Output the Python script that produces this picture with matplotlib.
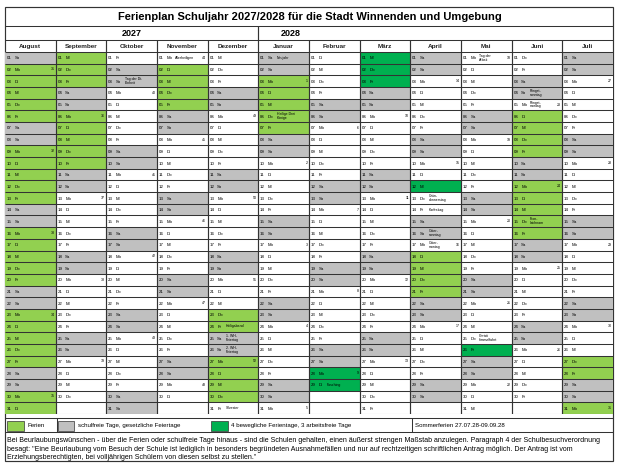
import datetime as dt
import matplotlib.pyplot as plt
from matplotlib.patches import Rectangle

plt.rcParams['font.family'] = ['Liberation Sans', 'DejaVu Sans']

title = 'Ferienplan Schuljahr 2027/2028 für die Stadt Winnenden und Umgebung'
years = ['2027', '2028']
months = ['August', 'September', 'Oktober', 'November', 'Dezember', 'Januar',
          'Februar', 'März', 'April', 'Mai', 'Juni', 'Juli']
month_numbers = [8, 9, 10, 11, 12, 1, 2, 3, 4, 5, 6, 7]
month_years = [2027, 2027, 2027, 2027, 2027, 2028, 2028, 2028, 2028, 2028, 2028, 2028]
weekdays = ['Mo', 'Di', 'Mi', 'Do', 'Fr', 'Sa', 'So']

# Ferien (hellgrün), Wochenenden werden grau
ferien_von = ['2027-08-01', '2027-11-02', '2027-12-23', '2028-01-03',
              '2028-04-18', '2028-06-06', '2028-07-27']
ferien_bis = ['2027-09-10', '2027-11-05', '2027-12-30', '2028-01-07',
              '2028-04-21', '2028-06-16', '2028-07-31']
# bewegliche Ferientage / arbeitsfreie Tage (dunkelgrün)
bewegliche_tage = ['2028-02-28', '2028-02-29', '2028-03-01', '2028-03-02',
                   '2028-03-03', '2028-04-12', '2028-05-26']

feiertag_datum = ['2027-10-03', '2027-11-01', '2027-12-24', '2027-12-25',
                  '2027-12-26', '2027-12-31', '2028-01-01', '2028-01-06',
                  '2028-02-29', '2028-04-13', '2028-04-14', '2028-04-16',
                  '2028-04-17', '2028-05-01', '2028-05-25', '2028-06-04',
                  '2028-06-05', '2028-06-15']
feiertag_name = ['Tag der Dt.\nEinheit', 'Allerheiligen', 'Heiligabend',
                 '1. WH-\nFeiertag', '2. WH-\nFeiertag', 'Silvester', 'Neujahr',
                 'Heilige Drei\nKönige', 'Fasching', 'Grün-\ndonnerstag',
                 'Karfreitag', 'Oster-\nsonntag', 'Oster-\nmontag',
                 'Tag der\nArbeit', 'Christi\nhimmelfahrt', 'Pfingst-\nsonntag',
                 'Pfingst-\nmontag', 'Fron-\nleichnam']

legend_labels = ['Ferien', 'schulfreie Tage, gesetzliche Feiertage',
                 '4 bewegliche Ferientage, 3 arbeitsfreie Tage']
sommerferien_text = 'Sommerferien 27.07.28-09.09.28'
hinweis = [
    'Bei Beurlaubungswünschen - über die Ferien oder schulfreie Tage hinaus - sind die Schulen '
    'gehalten, einen äußerst strengen Maßstab anzulegen. Paragraph 4 der Schulbesuchverordnung',
    'besagt: "Eine Beurlaubung vom Besuch der Schule ist lediglich in besonders begründeten '
    'Ausnahmefällen und nur auf rechtzeitigen schriftlichen Antrag möglich. Der Antrag ist vom',
    'Erziehungsberechtigten, bei volljährigen Schülern von diesen selbst zu stellen."',
]

FERIEN = '#92D050'
FREI = '#C0C0C0'
BEWEGLICH = '#00B050'
LINE = '#333333'

ferien = [(dt.date.fromisoformat(a), dt.date.fromisoformat(b))
          for a, b in zip(ferien_von, ferien_bis)]
beweglich = {dt.date.fromisoformat(s) for s in bewegliche_tage}
feiertage = {dt.date.fromisoformat(s): n for s, n in zip(feiertag_datum, feiertag_name)}


def farbe(tag):
    if tag.weekday() >= 5:
        return FREI
    if tag in beweglich:
        return BEWEGLICH
    if any(a <= tag <= b for a, b in ferien):
        return FERIEN
    return 'white'


W, H = 620, 466
fig = plt.figure(figsize=(W / 100, H / 100), dpi=100)
page = fig.add_axes([0, 0, 1, 1])
page.set_xlim(0, W)
page.set_ylim(H, 0)
page.axis('off')

# Kalenderraster: x = Monat, y = Tag (Zeile -1 = Monatskopf)
gx0, gx1, gy0, gy1 = 5, 613, 40.3, 414
grid = fig.add_axes([gx0 / W, 1 - gy1 / H, (gx1 - gx0) / W, (gy1 - gy0) / H])
grid.set_xlim(0, 12)
grid.set_ylim(31, -1)
grid.axis('off')

xs, ys, cs = [], [], []
for c, (m, y) in enumerate(zip(month_numbers, month_years)):
    grid.text(c + 0.5, -0.5, months[c], ha='center', va='center',
              fontsize=4.6, fontweight='bold', color='#222222')
    for d in range(1, 32):
        try:
            tag = dt.date(y, m, d)
        except ValueError:
            continue
        xs.append(c)
        ys.append(d - 1)
        cs.append(farbe(tag))
        yc = d - 0.45
        grid.text(c + 0.035, yc, f'{d:02d}', ha='left', va='center', fontsize=3.2)
        grid.text(c + 0.19, yc, weekdays[tag.weekday()], ha='left', va='center', fontsize=3.2)
        if tag.weekday() == 0:
            grid.text(c + 0.975, yc - 0.05, str(tag.isocalendar()[1]), ha='right',
                      va='center', fontsize=2.6)
        if tag in feiertage:
            grid.text(c + 0.36, d - 0.5, feiertage[tag], ha='left', va='center',
                      fontsize=2.5, linespacing=0.95)

grid.bar(xs, 1, width=1, bottom=ys, color=cs, align='edge', linewidth=0, zorder=0)
grid.hlines(range(0, 32), 0, 12, color=LINE, lw=0.75, zorder=1)
grid.vlines(range(1, 12), -1, 31, color=LINE, lw=0.85, zorder=1)

# Kopf, Rahmen, Legende, Hinweis
page.add_patch(Rectangle((5, 7), 608, 454, fill=False, ec=LINE, lw=0.85))
page.hlines([26, 40.3, 417.5, 431.5], 5, 613, color=LINE, lw=0.75)
page.vlines(gx0 + 5 * (gx1 - gx0) / 12, 26, 40.3, color=LINE, lw=0.85)
page.text(310, 16.8, title, ha='center', va='center', fontsize=8, fontweight='bold')
page.text(132, 33.5, years[0], ha='center', va='center', fontsize=6.5, fontweight='bold')
page.text(291, 33.5, years[1], ha='center', va='center', fontsize=6.5, fontweight='bold')

for x0, col, lab in zip([7, 57.5, 211], [FERIEN, FREI, BEWEGLICH], legend_labels):
    page.add_patch(Rectangle((x0, 420.5), 16.5, 10, fc=col, ec=LINE, lw=0.5))
    page.text(x0 + 20, 425.8, lab, ha='left', va='center', fontsize=4.4)
page.vlines([56.5, 412.3], 417.5, 431.5, color=LINE, lw=0.75)
page.text(415, 425.8, sommerferien_text, ha='left', va='center', fontsize=4.4)

for i, line in enumerate(hinweis):
    page.text(7, 441 + 8.3 * i, line, ha='left', va='center', fontsize=5.05)

fig.savefig('out.png', dpi=100, facecolor='white')
